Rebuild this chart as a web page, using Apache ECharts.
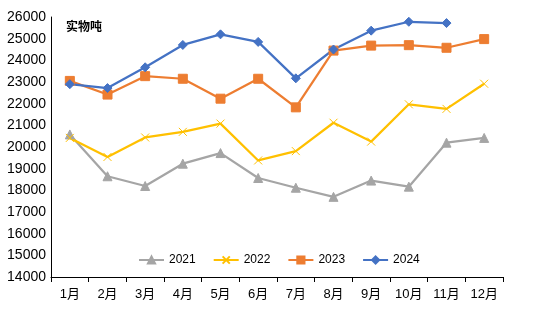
<!DOCTYPE html>
<html><head><meta charset="utf-8">
<script src="https://cdn.jsdelivr.net/npm/echarts@6/dist/echarts.min.js"></script>
<style>html,body{margin:0;padding:0;background:#fff}#c{width:554px;height:316px}</style>
</head><body><div id="c"></div>
<script>
var categories = ['1月','2月','3月','4月','5月','6月','7月','8月','9月','10月','11月','12月'];
var s2021 = [20580,18650,18200,19230,19720,18570,18120,17700,18450,18170,20200,20420];
var s2022 = [20420,19540,20440,20700,21080,19380,19810,21120,20250,21970,21760,22920];
var s2023 = [23050,22420,23270,23150,22230,23150,21830,24450,24680,24700,24580,24980];
var s2024 = [22900,22720,23680,24710,25200,24850,23170,24500,25370,25780,25720];
var seriesNames = ['2021','2022','2023','2024'];
var unitLabel = '实物吨';

var font = "'Liberation Sans','Noto Sans CJK SC',sans-serif";
var chart = echarts.init(document.getElementById('c'), null, {renderer:'canvas'});
function mk(name, data, color, symbol, size) {
  return {
    name: name, type: 'line', data: data, symbol: symbol, symbolSize: size,
    showAllSymbol: true,
    lineStyle: {color: color, width: 2.25},
    itemStyle: {color: color, borderColor: color, borderWidth: 1},
    emphasis: {disabled: true}, animation: false
  };
}
chart.setOption({
  animation: false,
  textStyle: {fontFamily: font},
  grid: {left: 51, right: 51, top: 17, bottom: 39, containLabel: false},
  graphic: [{type:'text', left: 66, top: 20, style:{text: unitLabel, font: "bold 12px 'Noto Sans CJK SC'", fill:'#000'}}],
  legend: {
    left: 133, top: 249, itemWidth: 25, itemHeight: 9, itemGap: 17,
    textStyle: {fontSize: 12, color: '#000', fontFamily: font},
    data: seriesNames
  },
  xAxis: {
    type: 'category', data: categories, boundaryGap: true,
    axisLine: {lineStyle: {color: '#000', width: 1}},
    axisTick: {show: true, alignWithLabel: false, length: 5, lineStyle: {color: '#000'}},
    axisLabel: {fontSize: 13, color: '#000', margin: 11}
  },
  yAxis: {
    type: 'value', min: 14000, max: 26000, interval: 1000,
    axisLine: {show: true, lineStyle: {color: '#000', width: 1}},
    axisTick: {show: false},
    splitLine: {show: false},
    axisLabel: {fontSize: 14, color: '#000', margin: 5, formatter: function(v){return String(v);}}
  },
  series: [
    mk('2021', s2021, '#A5A5A5', 'triangle', 9),
    mk('2022', s2022, '#FFC000', 'path://M0,0L10,10M10,0L0,10', 8),
    mk('2023', s2023, '#ED7D31', 'rect', 9),
    mk('2024', s2024, '#4472C4', 'diamond', 9)
  ]
});
</script></body></html>
